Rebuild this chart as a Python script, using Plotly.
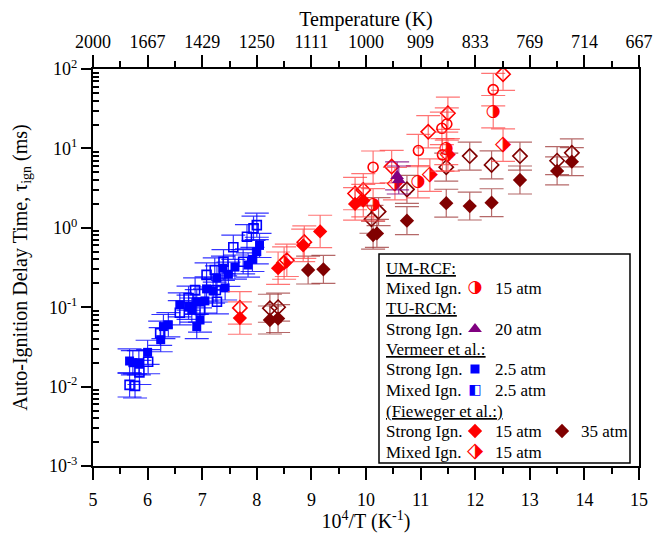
import plotly.graph_objects as go

# ---------------- data ----------------
# Vermeer et al., strong ignition, 2.5 atm (filled blue squares)
verm_strong_x = [5.67, 5.73, 5.84, 6.00, 6.24, 6.29, 6.38, 6.59, 6.75, 6.81, 6.90, 6.90, 6.96,
                 7.05, 7.08, 7.20, 7.27, 7.38, 7.42, 7.48, 7.60, 7.84, 7.92, 8.00, 8.05]
verm_strong_y = [0.021, 0.020, 0.020, 0.027, 0.039, 0.057, 0.060, 0.107, 0.100, 0.092, 0.117, 0.057, 0.069,
                 0.120, 0.170, 0.160, 0.233, 0.310, 0.175, 0.260, 0.320, 0.340, 0.400, 0.500, 0.600]
# Vermeer et al., mixed ignition, 2.5 atm (open blue squares)
verm_mixed_x = [5.67, 5.77, 5.85, 6.01, 6.23, 6.59, 6.75, 6.87, 6.96, 7.08, 7.23, 7.25, 7.27,
                7.39, 7.57, 7.75, 7.82, 7.94, 8.00]
verm_mixed_y = [0.0105, 0.0102, 0.0151, 0.0206, 0.047, 0.085, 0.130, 0.165, 0.092, 0.255, 0.294, 0.165, 0.117,
                0.374, 0.568, 0.374, 0.770, 0.986, 1.08]
# UM-RCF, mixed ignition, 15 atm (circles)
umrcf_open_x = [10.13, 10.96, 11.39, 11.48, 11.40, 12.33]
umrcf_open_y = [5.8, 9.4, 17.9, 20.3, 8.3, 55.0]
umrcf_half_x = [10.13, 10.95, 11.47, 12.33]
umrcf_half_y = [1.95, 3.8, 10.0, 29.0]
# TU-RCM, strong ignition, 20 atm (purple triangles)
turcm_x = [10.57, 10.60]
turcm_y = [4.5, 4.0]
# Fieweger et al., strong ignition, 15 atm (filled red diamonds)
fw15_strong_x = [7.69, 8.39, 8.85, 9.16, 9.80, 9.95]
fw15_strong_y = [0.073, 0.31, 0.60, 0.90, 2.00, 2.20]
# Fieweger et al., mixed ignition, 15 atm (open red diamonds)
fw15_mixed_x = [7.69, 8.55, 8.87, 9.80, 9.95, 10.47, 11.14, 11.50, 12.51]
fw15_mixed_y = [0.098, 0.39, 0.66, 2.70, 3.00, 5.90, 16.2, 27.7, 86.0]
fw15_half_x = [8.50, 10.53, 11.17, 11.50, 12.51]
fw15_half_y = [0.36, 3.6, 4.6, 8.3, 11.0]
# Fieweger et al., strong ignition, 35 atm (filled dark red diamonds)
fw35_strong_x = [8.24, 8.39, 8.94, 9.22, 10.13, 10.20, 10.75, 11.47, 11.90, 12.30, 12.82, 13.50, 13.77]
fw35_strong_y = [0.069, 0.072, 0.294, 0.30, 0.81, 0.85, 1.23, 2.04, 1.88, 2.07, 4.0, 5.2, 6.8]
# Fieweger et al., mixed ignition, 35 atm (open dark red diamonds)
fw35_mixed_x = [8.24, 8.39, 10.10, 10.23, 10.75, 11.47, 11.90, 12.30, 12.82, 13.50, 13.77]
fw35_mixed_y = [0.097, 0.100, 1.28, 1.60, 3.05, 5.8, 8.0, 6.2, 8.0, 7.0, 8.8]

# axis labels
x_ticks = [5, 6, 7, 8, 9, 10, 11, 12, 13, 14, 15]
temp_labels = ["2000", "1667", "1429", "1250", "1111", "1000", "909", "833", "769", "714", "667"]
y_ticks = [1e-3, 1e-2, 1e-1, 1e0, 1e1, 1e2]
y_labels = ["10<sup>-3</sup>", "10<sup>-2</sup>", "10<sup>-1</sup>", "10<sup>0</sup>",
            "10<sup>1</sup>", "10<sup>2</sup>"]

# uncertainty factors (multiplicative) per data set
ERR_BLUE = 1.42
ERR_RED = 1.6
ERR_DARK = 1.5
ERR_PURPLE = 1.5

FONT = "Liberation Serif"
RED = "#ff0000"
DARK = "#800000"
BLUE = "#0000ff"
PURPLE = "#800080"

HALF_CIRCLE = "\u25D1"    # circle, right half filled
HALF_SQUARE = "\u25E7"    # square, left half filled
HALF_DIAMOND = "\u2B17"   # diamond, right half filled


def errs(ys, f):
    return [v * (f - 1) for v in ys], [v * (1 - 1 / f) for v in ys]


def ebar(ys, f, color):
    p, m = errs(ys, f)
    return dict(type="data", symmetric=False, array=p, arrayminus=m,
                color=color, thickness=1.2, width=12)


fig = go.Figure()


def add(xs, ys, f, ecolor, marker):
    fig.add_trace(go.Scatter(x=xs, y=ys, mode="markers", marker=marker,
                             error_y=ebar(ys, f, ecolor), showlegend=False,
                             hoverinfo="x+y"))


def add_half(xs, ys, f, ecolor, glyph, color, size):
    fig.add_trace(go.Scatter(x=xs, y=ys, mode="text", text=[glyph] * len(xs),
                             textposition="middle center",
                             textfont=dict(family="DejaVu Sans", size=size, color=color),
                             error_y=ebar(ys, f, ecolor), showlegend=False,
                             hoverinfo="x+y"))


LRED = "rgba(255,70,70,0.75)"
LDARK = "rgba(150,40,40,0.7)"
LBLUE = "rgba(0,0,255,0.8)"

add(verm_mixed_x, verm_mixed_y, ERR_BLUE, LBLUE,
    dict(symbol="square-open", size=9, color=BLUE, line=dict(width=1.6)))
add(verm_strong_x, verm_strong_y, ERR_BLUE, LBLUE,
    dict(symbol="square", size=9, color=BLUE, line=dict(width=0)))
add(fw35_mixed_x, fw35_mixed_y, ERR_DARK, LDARK,
    dict(symbol="diamond-open", size=11, color=DARK, line=dict(width=1.6)))
add(fw35_strong_x, fw35_strong_y, ERR_DARK, LDARK,
    dict(symbol="diamond", size=11, color=DARK, line=dict(width=0)))
add(fw15_mixed_x, fw15_mixed_y, ERR_RED, LRED,
    dict(symbol="diamond-open", size=11, color=RED, line=dict(width=1.6)))
add_half(fw15_half_x, fw15_half_y, ERR_RED, LRED, HALF_DIAMOND, RED, 21)
add(fw15_strong_x, fw15_strong_y, ERR_RED, LRED,
    dict(symbol="diamond", size=11, color=RED, line=dict(width=0)))
add(umrcf_open_x, umrcf_open_y, ERR_RED, LRED,
    dict(symbol="circle-open", size=10, color=RED, line=dict(width=1.6)))
add_half(umrcf_half_x, umrcf_half_y, ERR_RED, LRED, HALF_CIRCLE, RED, 17)
add(turcm_x, turcm_y, ERR_PURPLE, "rgba(128,0,128,0.8)",
    dict(symbol="triangle-up", size=12, color=PURPLE, line=dict(width=0)))

# invisible trace to carry the top temperature axis
fig.add_trace(go.Scatter(x=[None], y=[None], xaxis="x2", showlegend=False, hoverinfo="skip"))

# ---------------- hand-made legend ----------------
L, R, T, B = 93.0, 639.0, 69.0, 466.0


def px(x):
    return (x - L) / (R - L)


def py(y):
    return (B - y) / (B - T)


fig.add_shape(type="rect", xref="paper", yref="paper",
              x0=px(379), x1=px(630), y0=py(463), y1=py(254),
              line=dict(color="black", width=1.5), fillcolor="white", layer="below")

LEG = 17
rows = [268, 288, 308, 329, 349, 369, 390, 411, 431, 452]
texts = ["<u>UM-RCF:</u>", "Mixed Ign.", "<u>TU-RCM:</u>", "Strong Ign.", "<u>Vermeer et al.:</u>",
         "Strong Ign.", "Mixed Ign.", "<u>(Fieweger et al.:)</u>", "Strong Ign.", "Mixed Ign."]
for t, yy in zip(texts, rows):
    fig.add_annotation(x=px(384), y=py(yy), xref="paper", yref="paper", text=t,
                       showarrow=False, xanchor="left", yanchor="middle",
                       font=dict(family=FONT, size=LEG, color="black"))
press = [(288, "15 atm"), (329, "20 atm"), (369, "2.5 atm"), (390, "2.5 atm"),
         (431, "15 atm"), (452, "15 atm")]
for yy, t in press:
    fig.add_annotation(x=px(493), y=py(yy), xref="paper", yref="paper", text=t,
                       showarrow=False, xanchor="left", yanchor="middle",
                       font=dict(family=FONT, size=LEG, color="black"))
fig.add_annotation(x=px(579), y=py(431), xref="paper", yref="paper", text="35 atm",
                   showarrow=False, xanchor="left", yanchor="middle",
                   font=dict(family=FONT, size=LEG, color="black"))

leg_markers = [
    (475, 329, dict(symbol="triangle-up", size=12, color=PURPLE)),
    (475, 369, dict(symbol="square", size=9, color=BLUE)),
    (475, 431, dict(symbol="diamond", size=11, color=RED)),
    (562, 431, dict(symbol="diamond", size=11, color=DARK)),
]
for mx, my, mk in leg_markers:
    fig.add_trace(go.Scatter(x=[px(mx)], y=[py(my)], xaxis="x3", yaxis="y3", mode="markers",
                             marker=mk, showlegend=False, hoverinfo="skip"))
leg_glyphs = [(475, 288, HALF_CIRCLE, RED, 17), (475, 390, HALF_SQUARE, BLUE, 14),
              (475, 452, HALF_DIAMOND, RED, 21)]
for mx, my, g, c, s in leg_glyphs:
    fig.add_trace(go.Scatter(x=[px(mx)], y=[py(my)], xaxis="x3", yaxis="y3", mode="text",
                             text=[g], textposition="middle center",
                             textfont=dict(family="DejaVu Sans", size=s, color=c),
                             showlegend=False, hoverinfo="skip"))

axis_common = dict(showline=True, linecolor="black", linewidth=2, showgrid=False, zeroline=False,
                   ticks="outside", tickcolor="black", tickwidth=2, automargin=False,
                   tickfont=dict(family=FONT, size=18, color="black"))

fig.update_layout(
    width=658, height=533,
    margin=dict(l=93, r=19, t=69, b=67, autoexpand=False),
    paper_bgcolor="white", plot_bgcolor="white",
    showlegend=False,
    font=dict(family=FONT, color="black"),
    xaxis=dict(range=[5, 15], tickmode="array", tickvals=x_ticks, ticklen=12,
               ticklabelstandoff=4,
               minor=dict(tickmode="linear", tick0=5, dtick=0.5, ticks="outside", ticklen=6,
                          tickwidth=2, tickcolor="black"),
               title=dict(text="10<sup>4</sup>/T (K<sup>-1</sup>)", font=dict(family=FONT, size=20),
                          standoff=0),
               **axis_common),
    xaxis2=dict(range=[5, 15], overlaying="x", side="top", anchor="y", tickmode="array",
                tickvals=x_ticks, ticktext=temp_labels, ticklen=12,
                minor=dict(tickmode="linear", tick0=5, dtick=0.5, ticks="outside", ticklen=6,
                           tickwidth=2, tickcolor="black"),
                title=dict(text="Temperature (K)", font=dict(family=FONT, size=20), standoff=0),
                **axis_common),
    yaxis=dict(type="log", range=[-3, 2], tickmode="array", tickvals=y_ticks, ticktext=y_labels,
               ticklen=10, mirror=True,
               minor=dict(tickmode="array",
                          tickvals=[k * 10 ** e for e in range(-3, 2) for k in range(2, 10)],
                          ticks="inside", ticklen=6, tickwidth=1.5, tickcolor="black"),
               title=dict(text="Auto-Ignition Delay Time, τ<sub>ign</sub> (ms)",
                          font=dict(family=FONT, size=20), standoff=16),
               **axis_common),
    xaxis3=dict(range=[0, 1], overlaying="x", visible=False, anchor="y3"),
    yaxis3=dict(range=[0, 1], overlaying="y", visible=False, anchor="x3"),
)

fig.write_html("out.html")
